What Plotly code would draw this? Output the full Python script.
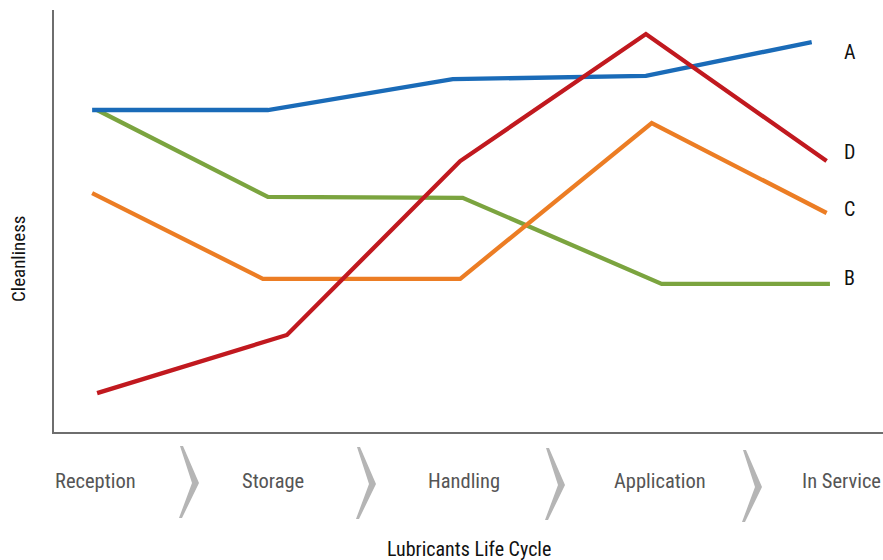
import plotly.graph_objects as go

# Stages of the lubricant life cycle and where each stage label sits on the x scale (0-100)
stages = ["Reception", "Storage", "Handling", "Application", "In Service"]
stage_pos = [4.95, 26.4, 49.5, 73.1, 95.0]

# Cleanliness profiles (x along the life cycle, y = relative cleanliness 0-100)
series_names = ["A", "D", "C", "B"]
a_x = [4.6, 25.8, 48.1, 71.4, 91.4]
a_y = [76.3, 76.3, 83.6, 84.4, 92.4]
d_x = [5.2, 28.1, 49.0, 71.4, 93.2]
d_y = [9.2, 23.0, 64.2, 94.3, 64.2]
c_x = [4.6, 25.2, 49.0, 72.1, 93.2]
c_y = [56.6, 36.3, 36.3, 73.2, 51.9]
b_x = [5.2, 25.8, 49.3, 73.3, 93.6]
b_y = [76.3, 55.7, 55.5, 35.1, 35.1]

colors = {"A": "#1a6bb8", "D": "#c1191f", "C": "#ec7d24", "B": "#7ba43f"}
label_shift = {"A": -10, "D": 9, "C": 4, "B": 6}
LABEL_X = 95.1  # common left edge of the series letters

FONT = "Liberation Sans Narrow, Roboto Condensed, Arial Narrow, Roboto, sans-serif"

W, H = 883, 560
ML, MR, MT, MB = 54, 0, 10, 128
PW, PH = W - ML - MR, H - MT - MB

fig = go.Figure()
data = {"A": (a_x, a_y), "D": (d_x, d_y), "C": (c_x, c_y), "B": (b_x, b_y)}
for name in ["B", "C", "A", "D"]:
    xs, ys = data[name]
    fig.add_trace(go.Scatter(x=xs, y=ys, mode="lines", name=name,
                             line=dict(color=colors[name], width=4.3),
                             hoverinfo="skip", showlegend=False))

annotations = []
# series letters in a column right of the line ends
for name in series_names:
    xs, ys = data[name]
    annotations.append(dict(x=LABEL_X, y=ys[-1], xref="x", yref="y", text=name,
                            showarrow=False, xanchor="left",
                            yshift=label_shift[name],
                            font=dict(family=FONT, size=20, color="#111111")))

# stage labels below the axis
for s, p in zip(stages, stage_pos):
    annotations.append(dict(x=p, y=(MT + PH - 481) / PH, xref="x", yref="paper",
                            text=s, showarrow=False, xanchor="center", yanchor="middle",
                            font=dict(family=FONT, size=20.5, color="#555555")))

annotations.append(dict(x=(469 - ML) / PW, y=(MT + PH - 549) / PH, xref="paper", yref="paper",
                        text="Lubricants Life Cycle", showarrow=False,
                        xanchor="center", yanchor="middle",
                        font=dict(family=FONT, size=20, color="#111111")))
annotations.append(dict(x=(18 - ML) / PW, y=(MT + PH - 259) / PH, xref="paper", yref="paper",
                        text="Cleanliness", showarrow=False, textangle=-90,
                        xanchor="center", yanchor="middle",
                        font=dict(family=FONT, size=19, color="#111111")))


def px_to_paper(px, py):
    return (px - ML) / PW, (MT + PH - py) / PH


def chevron(left_px, top_px):
    pts = [(0, 0), (3, 0), (19, 37), (2, 72), (-1, 72), (12, 37)]
    coords = [px_to_paper(left_px + dx, top_px + dy) for dx, dy in pts]
    return "M " + " L ".join(f"{x:.5f},{y:.5f}" for x, y in coords) + " Z"


shapes = []
for lx, ty in [(180, 446), (357, 447), (546, 448), (743, 450)]:
    shapes.append(dict(type="path", path=chevron(lx, ty), xref="paper", yref="paper",
                       fillcolor="#b5b5b5", line=dict(width=0), layer="above"))

fig.update_layout(
    width=W, height=H,
    margin=dict(l=ML, r=MR, t=MT, b=MB),
    paper_bgcolor="white", plot_bgcolor="white",
    xaxis=dict(range=[0, 100], showgrid=False, zeroline=False, showticklabels=False,
               ticks="", showline=True, linecolor="#6e6e6e", linewidth=2),
    yaxis=dict(range=[0, 100], showgrid=False, zeroline=False, showticklabels=False,
               ticks="", showline=True, linecolor="#6e6e6e", linewidth=2),
    annotations=annotations,
    shapes=shapes,
)

fig.write_html("out.html")
